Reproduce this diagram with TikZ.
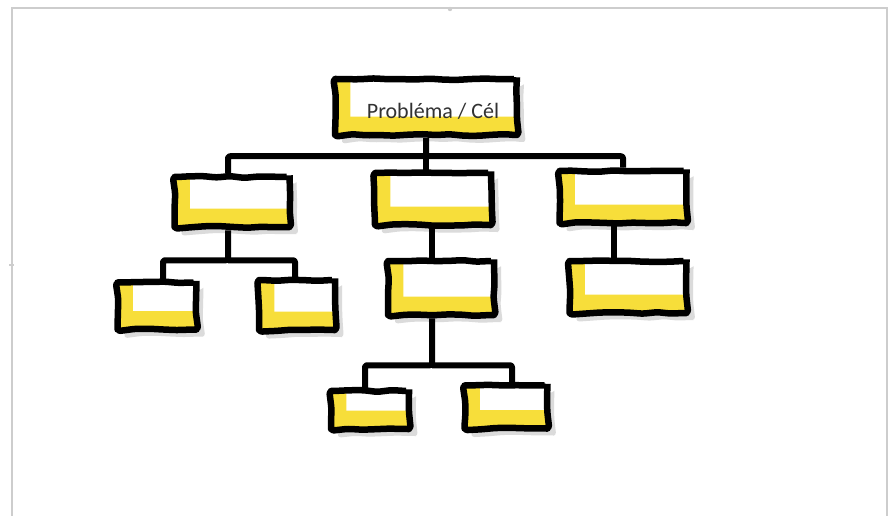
\documentclass[tikz,border=0pt]{standalone}
\usepackage{fontspec}
\setmainfont{Carlito}
\usetikzlibrary{shadows,decorations.pathmorphing,calc}
\definecolor{hlyellow}{RGB}{247,222,58}
\definecolor{txtgray}{RGB}{50,50,50}
\definecolor{framegray}{RGB}{205,205,205}
\pgfmathsetseed{7}
\tikzset{
  sketchbox/.style={
    draw=black, line width=6.5pt, fill=white, line join=round,
    rounded corners=3pt,
    decorate, decoration={random steps, segment length=14pt, amplitude=0.9pt},
    inner sep=0pt,
    drop shadow={shadow xshift=7pt, shadow yshift=-7pt, fill=black!14, opacity=1},
    path picture={
      \fill[hlyellow] (path picture bounding box.south west) rectangle ([xshift=17pt]path picture bounding box.north west);
      \fill[hlyellow] (path picture bounding box.south west) rectangle ([yshift=20pt]path picture bounding box.south east);
    }
  },
  conn/.style={draw=black, line width=6pt, line cap=butt, line join=round, rounded corners=2pt},
  framestyle/.style={draw=framegray, line width=1.4pt}
}
\begin{document}
\begin{tikzpicture}[x=1pt,y=-1pt]
\useasboundingbox (0,0) rectangle (892,516);
\fill[white] (0,0) rectangle (892,516);
% slide frame
\draw[framestyle] (12,520) -- (12,8) -- (887,8) -- (887,520);
\fill[framegray] (450,9) circle (2.2pt);
\draw[framestyle] (9,265) -- (14,265);
% boxes
\node[sketchbox, minimum width=182pt, minimum height=56pt] (top) at (426,107) {};
\node[font=\fontsize{22}{25}\selectfont, text=txtgray] (toptext) at (433,111) {Probléma / Cél};
\node[sketchbox, minimum width=115pt, minimum height=50pt] (b1) at (232,202) {};
\node[sketchbox, minimum width=116pt, minimum height=52pt] (b2) at (433,199) {};
\node[sketchbox, minimum width=127pt, minimum height=52pt] (b3) at (623,197) {};
\node[sketchbox, minimum width=79pt, minimum height=47pt] (c1) at (157,306) {};
\node[sketchbox, minimum width=76pt, minimum height=50pt] (c2) at (297,305) {};
\node[sketchbox, minimum width=106pt, minimum height=54pt] (c3) at (441,288) {};
\node[sketchbox, minimum width=117pt, minimum height=52pt] (c4) at (628,287) {};
\node[sketchbox, minimum width=78pt, minimum height=38pt] (d1) at (370,410) {};
\node[sketchbox, minimum width=83pt, minimum height=43pt] (d2) at (506,407) {};
% connectors
\draw[conn] (top.south) -- ++(0,18) coordinate (bus1) -| ([xshift=-4pt]b1.north);
\draw[conn] (bus1) -| (b3.north);
\draw[conn] (top.south) -- (top.south |- b2.north);
\draw[conn] ([xshift=-4pt]b1.south) -- ++(0,30) coordinate (bus2) -| ([xshift=6pt]c1.north);
\draw[conn] (bus2) -| ([xshift=-2pt]c2.north);
\draw[conn] ([xshift=-1pt]b2.south) -- ([xshift=-1pt]b2.south |- c3.north);
\draw[conn] ([xshift=-9pt]b3.south) -- ([xshift=-9pt]b3.south |- c4.north);
\draw[conn] ([xshift=-9pt]c3.south) -- ++(0,47) coordinate (bus3) -| ([xshift=-5pt]d1.north);
\draw[conn] (bus3) -| ([xshift=6pt]d2.north);
\end{tikzpicture}
\end{document}
